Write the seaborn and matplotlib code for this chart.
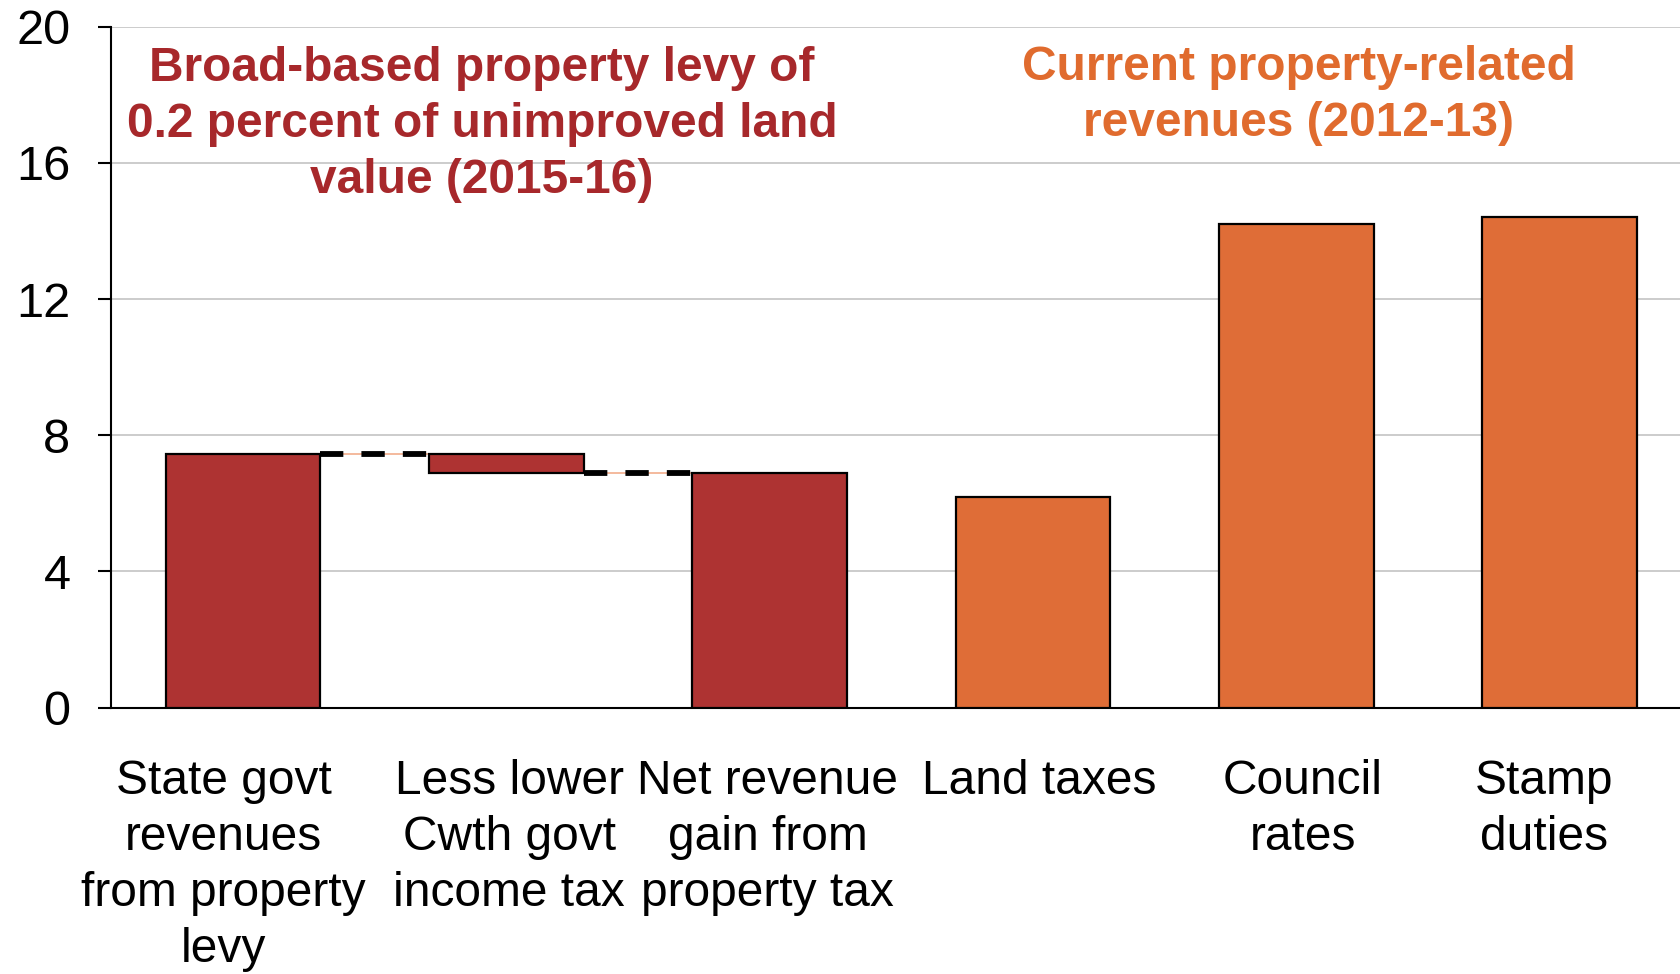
import pandas as pd
import matplotlib.pyplot as plt
import matplotlib.transforms as mtransforms
import seaborn as sns

# Data
categories = ['State govt\nrevenues\nfrom property\nlevy', 'Less lower\nCwth govt\nincome tax',
              'Net revenue\ngain from\nproperty tax', 'Land taxes', 'Council\nrates', 'Stamp\nduties']
bar_bottoms = [0, 6.9, 0, 0, 0, 0]
bar_heights = [7.45, 0.55, 6.9, 6.2, 14.2, 14.4]
groups = ['levy', 'levy', 'levy', 'current', 'current', 'current']
y_ticks = [0, 4, 8, 12, 16, 20]

red = '#AE3332'
orange = '#DF6D37'
group_colors = {'levy': red, 'current': orange}

sns.set_theme(style='white')
plt.rcParams['font.family'] = ['Liberation Sans', 'DejaVu Sans']

df = pd.DataFrame({'cat': categories, 'bottom': bar_bottoms, 'height': bar_heights, 'group': groups})

fig = plt.figure(figsize=(16.81, 9.74), dpi=100)
ax = fig.add_axes([0.0663, 0.2735, 0.9398, 0.699])

bw = 0.587
sns.barplot(data=df, x='cat', y='height', bottom=df['bottom'].values, color=red,
            width=bw, errorbar=None, edgecolor='black', linewidth=1.6, ax=ax, zorder=3)
for patch, g in zip(ax.patches, df['group']):
    patch.set_facecolor(group_colors[g])

# connectors of the waterfall
tops = [b + h for b, h in zip(bar_bottoms, bar_heights)]
levels = [tops[0], bar_bottoms[1]]
for i, lvl in enumerate(levels):
    xs = [i + bw / 2, i + 1 - bw / 2]
    ax.plot(xs, [lvl, lvl], color='#F2AE8C', lw=1.2, zorder=2)
    ax.plot(xs, [lvl, lvl], color='black', lw=4.2, linestyle=(0, (4.0, 3.1)), zorder=4)

ax.set_xlim(-0.5, 5.5)
ax.set_ylim(0, 20)
ax.set_yticks(y_ticks)
ax.yaxis.grid(True, color='#C8C8C8', lw=1.3, zorder=0)
ax.set_axisbelow(True)
ax.set_xlabel('')
ax.set_ylabel('')

for s in ['top', 'right']:
    ax.spines[s].set_visible(False)
for s in ['left', 'bottom']:
    ax.spines[s].set_color('black')
    ax.spines[s].set_linewidth(1.5)

ax.set_xticks([i - 0.5 for i in range(7)], minor=True)
ax.tick_params(axis='x', which='major', length=0, pad=37, labelsize=34.5, colors='black')
ax.tick_params(axis='x', which='minor', length=9.5, width=1.5, direction='out', color='black')
ax.tick_params(axis='y', length=9.5, width=1.5, direction='out', pad=20, labelsize=35,
               color='black', labelcolor='black', left=True)

# small horizontal nudges of the category labels (as wrapped in the original)
label_shift = [-14, 2, -1.5, 4.5, 4.5, -11.5]
for lab, dx in zip(ax.get_xticklabels(), label_shift):
    lab.set_linespacing(1.31)
    lab.set_transform(lab.get_transform() + mtransforms.ScaledTranslation(dx / 72, 0, fig.dpi_scale_trans))

ax.text(0.907, 17.13, 'Broad-based property levy of\n0.2 percent of unimproved land\nvalue (2015-16)',
        ha='center', va='center', fontsize=34.5, fontweight='bold', color='#A7282B', linespacing=1.31)
ax.text(4.01, 17.97, 'Current property-related\nrevenues (2012-13)',
        ha='center', va='center', fontsize=34.5, fontweight='bold', color='#E06B2E', linespacing=1.31)

fig.savefig('out.png', dpi=100)
